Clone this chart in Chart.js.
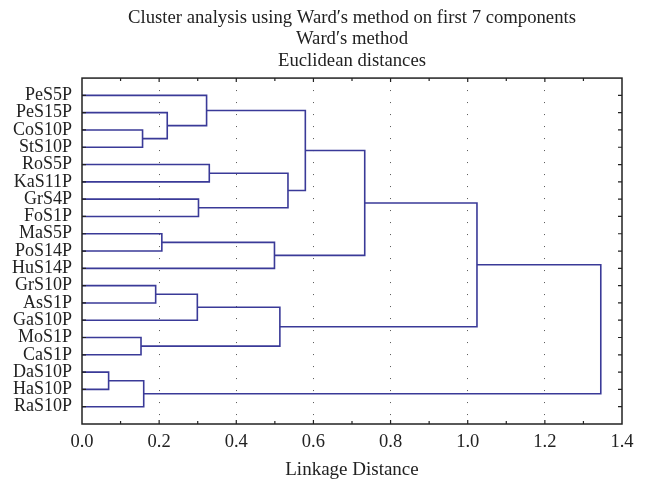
<!DOCTYPE html>
<html lang="en">
<head>
<meta charset="UTF-8">
<title>Cluster analysis - Ward's method</title>
<script src="https://cdn.jsdelivr.net/npm/chart.js"></script>
<style>
  body { margin: 0; background: #fff; }
  #wrap { width: 646px; height: 481px; }
</style>
</head>
<body>
<div id="wrap"><canvas id="dendro"></canvas></div>
<script>
// leaves, top to bottom
const leafLabels = ['PeS5P', 'PeS15P', 'CoS10P', 'StS10P', 'RoS5P', 'KaS11P', 'GrS4P', 'FoS1P',
  'MaS5P', 'PoS14P', 'HuS14P', 'GrS10P', 'AsS1P', 'GaS10P', 'MoS1P', 'CaS1P',
  'DaS10P', 'HaS10P', 'RaS10P'];

// merge i creates node (leafLabels.length + i) from nodes mergeA[i] and mergeB[i]
const mergeA = [2, 1, 0, 4, 6, 22, 21, 8, 26, 25, 11, 29, 14, 30, 28, 16, 34, 33];
const mergeB = [3, 19, 20, 5, 7, 23, 24, 9, 10, 27, 12, 13, 15, 31, 32, 17, 18, 35];
const mergeHeight = [0.157, 0.221, 0.323, 0.330, 0.302, 0.534, 0.579, 0.207, 0.499, 0.733,
  0.191, 0.299, 0.153, 0.513, 1.024, 0.069, 0.160, 1.345];

const xTicks = [0, 0.2, 0.4, 0.6, 0.8, 1.0, 1.2, 1.4];

const titleLines = ['Cluster analysis using Ward\u2032s method on first 7 components',
  'Ward\u2032s method', 'Euclidean distances'];

const LINE = 'rgb(58,58,152)';
const SERIF = '"Liberation Serif", "DejaVu Serif", serif';

// node position: leaves sit on their row, clusters halfway between children
const nodeY = leafLabels.map((_, i) => i);
const nodeH = leafLabels.map(() => 0);
const datasets = [];
mergeA.forEach((a, i) => {
  const b = mergeB[i], h = mergeHeight[i];
  datasets.push({
    data: [
      { x: nodeH[a], y: nodeY[a] },
      { x: h, y: nodeY[a] },
      { x: h, y: nodeY[b] },
      { x: nodeH[b], y: nodeY[b] }
    ],
    borderColor: LINE,
    borderWidth: 1.6,
    pointRadius: 0,
    fill: false,
    tension: 0
  });
  nodeY.push((nodeY[a] + nodeY[b]) / 2);
  nodeH.push(h);
});

// box round the plot with short inward ticks
const frame = {
  id: 'frame',
  afterDatasetsDraw(chart) {
    const { ctx, chartArea: a, scales: { x, y } } = chart;
    ctx.save();
    ctx.strokeStyle = '#222';
    ctx.lineWidth = 1.5;
    ctx.strokeRect(a.left, a.top, a.right - a.left, a.bottom - a.top);
    ctx.lineWidth = 1.2;
    ctx.beginPath();
    for (let k = 1; k < 14; k++) {
      const px = x.getPixelForValue(k / 10);
      const len = k % 2 === 0 ? 4 : 3;
      ctx.moveTo(px, a.top); ctx.lineTo(px, a.top + len);
      ctx.moveTo(px, a.bottom); ctx.lineTo(px, a.bottom - len);
    }
    leafLabels.forEach((_, i) => {
      const py = y.getPixelForValue(i);
      ctx.moveTo(a.right, py); ctx.lineTo(a.right - 4, py);
      ctx.moveTo(a.left, py); ctx.lineTo(a.left + 4, py);
    });
    ctx.stroke();
    ctx.restore();
  }
};

new Chart(document.getElementById('dendro'), {
  type: 'line',
  data: { datasets },
  options: {
    responsive: true,
    maintainAspectRatio: false,
    animation: false,
    layout: { padding: { left: 0, right: 24, top: 0, bottom: 0 } },
    plugins: {
      legend: { display: false },
      tooltip: { enabled: false },
      title: {
        display: true,
        fullSize: false,
        text: titleLines,
        color: '#222',
        font: { family: SERIF, size: 18.7, weight: 'normal', lineHeight: 1.16 },
        padding: { top: 7, bottom: 6 }
      }
    },
    scales: {
      x: {
        type: 'linear',
        min: 0,
        max: 1.4,
        afterBuildTicks: s => { s.ticks = xTicks.map(v => ({ value: v })); },
        afterFit: s => { s.height = 57; },
        ticks: {
          color: '#222',
          padding: 7,
          font: { family: SERIF, size: 18.5 },
          callback: v => v.toFixed(1)
        },
        grid: {
          drawTicks: false,
          lineWidth: 1,
          color: c => (c.tick && c.tick.value > 0 && c.tick.value < 1.4) ? '#555' : 'rgba(0,0,0,0)'
        },
        border: { display: false, dash: [1, 11] },
        title: {
          display: true,
          text: 'Linkage Distance',
          color: '#222',
          font: { family: SERIF, size: 19 },
          padding: { top: 0, bottom: 0 }
        }
      },
      y: {
        type: 'linear',
        reverse: true,
        min: -1,
        max: 19,
        afterBuildTicks: s => { s.ticks = leafLabels.map((_, i) => ({ value: i })); },
        afterFit: s => { s.width = 82; },
        ticks: {
          color: '#222',
          padding: 10,
          autoSkip: false,
          font: { family: SERIF, size: 18 },
          callback: v => leafLabels[v]
        },
        grid: { display: false, drawTicks: false },
        border: { display: false }
      }
    }
  },
  plugins: [frame]
});
</script>
</body>
</html>
